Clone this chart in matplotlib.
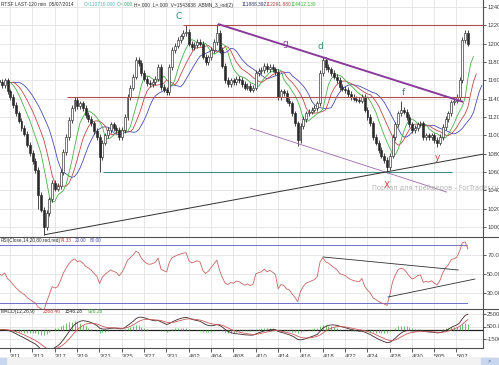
import numpy as np
import pandas as pd
import matplotlib
matplotlib.use("Agg")
import matplotlib.pyplot as plt
from matplotlib.lines import Line2D

# RTSF 120 min, Schlusskurse (ca. 4 Kerzen pro Handelstag)
closes = [
    115800, 115500, 116000, 114800, 114200, 113300, 112400, 111600,
    110800, 110200, 109000, 108100, 107200, 106200, 103500, 101900,
    100000, 101500, 103000, 104800, 104200, 104500, 106000, 108200,
    109800, 111700, 113000, 113900, 113200, 113500, 113000, 112200,
    111800, 111300, 110500, 109800, 107600, 109200, 110000, 110600,
    111200, 110800, 110600, 109800, 110600, 112000, 114200, 115200,
    116400, 118200, 117900, 116800, 116200, 115700, 115600, 115800,
    116200, 117450, 115300, 115000, 114700, 117450, 119300, 119800,
    120400, 120800, 121150, 121300, 120000, 119600, 119850, 120200,
    120000, 118600, 118000, 118500, 119300, 120200, 121150, 119300,
    117600, 116050, 115600, 116000, 115800, 116200, 116050, 115600,
    115200, 115400, 115000, 115200, 116800, 117000, 117150, 117600,
    117200, 117450, 117200, 116900, 114200, 114800, 114600, 113800,
    113500, 112400, 111300, 109500, 111000, 111800, 112400, 112600,
    112800, 113000, 113500, 116800, 118200, 117450, 117200, 116800,
    116400, 116050, 115300, 115100, 114950, 114500, 114200, 114000,
    113900, 113800, 114200, 112800, 112000, 111300, 109800, 109200,
    108400, 107800, 107300, 106550, 107800, 109800, 111200, 112400,
    112800, 112600, 112000, 111200, 110600, 110800, 111200, 111300,
    109800, 110000, 109800, 110000, 109500, 109200, 109800, 110900,
    111800, 112400, 113600, 113800, 114200, 116050, 120400, 121150, 120000,
]
first_open = 116000

# auffaellige Dochte
wick_high_bars = [49, 61, 67, 78, 116, 144, 167]
wick_high_vals = [118400, 117700, 122000, 122200, 118600, 113700, 121400]
wick_low_bars = [14, 16, 36, 107, 139, 157]
wick_low_vals = [102000, 99150, 106000, 108800, 105900, 108700]

date_labels = ["3/11", "3/13", "3/17", "3/19", "3/21", "3/25", "3/27", "3/31",
               "4/02", "4/04", "4/08", "4/10", "4/14", "4/16", "4/18", "4/22",
               "4/24", "4/28", "4/30", "5/05", "5/07"]

# Trendlinien (Kerze, Preis)
line_top_red = [(65.9, 122000), (173.4, 122000)]
line_mid_red = [(24.3, 114200), (168.5, 114200)]
line_teal = [(37.2, 105950), (162.3, 105950)]
line_g = [(78.4, 122150), (166.3, 113650)]
line_low_purple = [(89.9, 110800), (160.5, 103800)]
line_black = [(16.1, 99150), (173.4, 107950)]
rsi_line_down = [(116.1, 67.9), (164.5, 54.2)]
rsi_line_up = [(139.4, 25.8), (170.5, 44.7)]

wave_labels = ["C", "g", "d", "f", "y", "X"]
wave_x = [64.2, 102.4, 115.0, 144.7, 157.2, 139.0]
wave_y = [123000, 120070, 119740, 114620, 107630, 104580]
wave_colors = ["#2f8f73", "#8a3fa0", "#2f8f73", "#2f8f73", "#d04040", "#d04040"]

W, H = 499, 365


def rect(x0, y0, x1, y1):
    return [x0 / W, 1 - y1 / H, (x1 - x0) / W, (y1 - y0) / H]


c = pd.Series(closes, dtype=float)
o = c.shift(1).fillna(first_open)
n = len(c)
idx = np.arange(n)
hi = np.maximum(o, c) + 300
lo = np.minimum(o, c) - 300
for b, v in zip(wick_high_bars, wick_high_vals):
    hi[b] = max(hi[b], v)
for b, v in zip(wick_low_bars, wick_low_vals):
    lo[b] = min(lo[b], v)

# Alligator-artige Linien
jaw = c.ewm(alpha=1 / 7, adjust=False).mean()
teeth = c.ewm(alpha=1 / 5, adjust=False).mean()
lips = c.ewm(alpha=1 / 3, adjust=False).mean()

# RSI (Start neutral)
d = c.diff().fillna(0)
gain = d.clip(lower=0)
loss = -d.clip(upper=0)
start = d.abs().mean() / 2
gain.iloc[0] = start
loss.iloc[0] = start
g = gain.ewm(alpha=1 / 13, adjust=False).mean()
l = loss.ewm(alpha=1 / 13, adjust=False).mean()
rsi = 100 - 100 / (1 + g / l)

# MACD
macd = c.ewm(span=9, adjust=False).mean() - c.ewm(span=20, adjust=False).mean()
signal = macd.ewm(span=6, adjust=False).mean()
hist = macd - signal

plt.rcParams['font.family'] = ['Liberation Sans', 'DejaVu Sans']
fig = plt.figure(figsize=(W / 100, H / 100), dpi=100)
fig.patch.set_facecolor('white')

ax_p = fig.add_axes(rect(0, 0, 483, 237))
ax_r = fig.add_axes(rect(0, 237, 483, 309), sharex=ax_p)
ax_m = fig.add_axes(rect(0, 309, 483, 348), sharex=ax_p)

ticks = 3.9 + 8 * np.arange(len(date_labels))
grid_kw = dict(color='#e3e3e3', lw=0.6)

for ax in (ax_p, ax_r, ax_m):
    ax.set_facecolor('white')
    for s in ('left', 'top', 'bottom'):
        ax.spines[s].set_visible(False)
    ax.spines['right'].set_color('#505050')
    ax.spines['right'].set_linewidth(0.8)
    ax.yaxis.tick_right()
    ax.tick_params(axis='y', length=2, width=0.6, pad=1, labelsize=4.3,
                   colors='#404040')
    ax.set_xticks(ticks)
    ax.grid(True, **grid_kw)
    ax.set_axisbelow(True)
ax_p.tick_params(axis='x', length=0, labelbottom=False)
ax_r.tick_params(axis='x', length=0, labelbottom=False)
ax_m.spines['bottom'].set_visible(True)
ax_m.spines['bottom'].set_color('#505050')
ax_m.spines['bottom'].set_linewidth(0.8)
ax_m.set_xticklabels(date_labels, ha='left')
ax_m.tick_params(axis='x', length=3, width=0.6, pad=1.5, labelsize=4.3,
                 colors='#404040')

ax_p.set_xlim(0.3, 173.4)

# Hauptchart
price_ticks = np.arange(100000, 124001, 2000)
ax_p.set_yticks(price_ticks)
ax_p.set_yticklabels([str(v) for v in price_ticks])
ax_p.set_ylim(98909, 124764)

ax_p.vlines(idx, lo, hi, color='#2a2a2a', lw=0.6, zorder=3)
up = c >= o
body_lo = np.minimum(o, c)
body_h = np.maximum(np.abs(c - o), 80)
ax_p.bar(idx[up], body_h[up], bottom=body_lo[up], width=0.7,
         color='white', edgecolor='#2a2a2a', linewidth=0.45, zorder=4)
ax_p.bar(idx[~up], body_h[~up], bottom=body_lo[~up], width=0.7,
         color='#2a2a2a', edgecolor='#2a2a2a', linewidth=0.45, zorder=4)

ax_p.plot(idx + 5, jaw, color='#4a4ab8', lw=0.6, zorder=2)
ax_p.plot(idx + 3, teeth, color='#c04848', lw=0.6, zorder=2)
ax_p.plot(idx + 2, lips, color='#48b048', lw=0.6, zorder=2)

for pts, col, lw in [(line_top_red, '#b05050', 0.8), (line_mid_red, '#b05050', 0.8),
                     (line_teal, '#3f8f86', 0.8), (line_g, '#8a3a9a', 1.4),
                     (line_low_purple, '#9a6aaa', 0.6), (line_black, '#303030', 0.7)]:
    ax_p.plot([pts[0][0], pts[1][0]], [pts[0][1], pts[1][1]], color=col, lw=lw,
              zorder=5, solid_capstyle='butt')

for t, x, y, col in zip(wave_labels, wave_x, wave_y, wave_colors):
    ax_p.text(x, y, t, color=col, fontsize=6.5, ha='center', va='center', zorder=6,
              family=['DejaVu Sans'])

# RSI
ax_r.set_ylim(13.2, 88.9)
ax_r.set_yticks([30, 50, 70])
ax_r.set_yticklabels(["30.00", "50.00", "70.00"])
ax_r.plot(idx, rsi, color='#c86464', lw=0.6, zorder=3)
ax_r.plot([0.3, 167.5], [80, 80], color='#7070c8', lw=0.7, zorder=2)
ax_r.plot([0.3, 167.5], [20, 20], color='#7070c8', lw=0.7, zorder=2)
for pts in (rsi_line_down, rsi_line_up):
    ax_r.plot([pts[0][0], pts[1][0]], [pts[0][1], pts[1][1]], color='#303030',
              lw=0.6, zorder=4)

# MACD
ax_m.set_ylim(-2940, 3300)
ax_m.set_yticks([-1500, 500, 2500])
ax_m.set_yticklabels(["-1500.00", "500.00", "2500.00"])
ax_m.axhline(0, color='#202020', lw=0.9, zorder=2)
ax_m.vlines(idx, 0, hist, color='#58b058', lw=0.6, zorder=3)
ax_m.plot(idx, macd, color='#402828', lw=0.6, zorder=4)
ax_m.plot(idx, signal, color='#c85a5a', lw=0.6, zorder=4)

# Trennlinien
for yy in (237, 309):
    fig.add_artist(Line2D([0, 1], [1 - yy / H] * 2, color='#505050', lw=0.8))

# Kopfzeilen
hdr = [("RTSF LAST-120 min  05/07/2014", 1, '#303030'),
       ("C=110716.000", 84, '#5bb4c6'),
       ("O=.000", 117, '#3aa87a'),
       ("H=.000  L=.000  V=1543638  ABMN_3_ind(2)", 134.5, '#303030'),
       ("111888.392", 242, '#34346a'),
       ("112291.880", 266, '#b04040'),
       ("114412.139", 291, '#40b040')]
for t, x, col in hdr:
    fig.text(x / W, 1 - 5 / H, t, color=col, fontsize=3.5, va='center')

rsi_hdr = [("RSI(Close,14,20,80,red,red)", 1, '#303030'),
           ("74.33", 60, '#c04040'), ("20.00", 75, '#5050b0'), ("80.00", 90, '#5050b0')]
for t, x, col in rsi_hdr:
    fig.text(x / W, 1 - 240.5 / H, t, color=col, fontsize=3.4, va='center')

macd_hdr = [("MACD(12,26,9)", 1, '#303030'), ("2368.46", 43, '#c04040'),
            ("1546.28", 65, '#303030'), ("926.28", 88, '#40a040')]
for t, x, col in macd_hdr:
    fig.text(x / W, 1 - 311.5 / H, t, color=col, fontsize=3.6, va='center')

fig.text(372 / W, 1 - 188 / H, "Портал для трейдеров - ForTrader.ru", color='#b4b4b4',
         fontsize=4.8, va='center', family=['DejaVu Sans'])

# Scrollleiste
sb = fig.add_axes(rect(0, 357, 499, 365))
sb.set_xlim(0, W)
sb.set_ylim(0, 8)
sb.axis('off')
sb.add_patch(plt.Rectangle((0, 0), W, 8, color='#f2f2f2'))
sb.add_patch(plt.Rectangle((0, 1), 6, 6, color='#c8d6ee'))
sb.add_patch(plt.Rectangle((481, 1), 17, 6, color='#c8d6ee'))
sb.text(489.5, 4, ">", fontsize=4, ha='center', va='center', color='#4060a0')

fig.savefig("out.png", dpi=100)
